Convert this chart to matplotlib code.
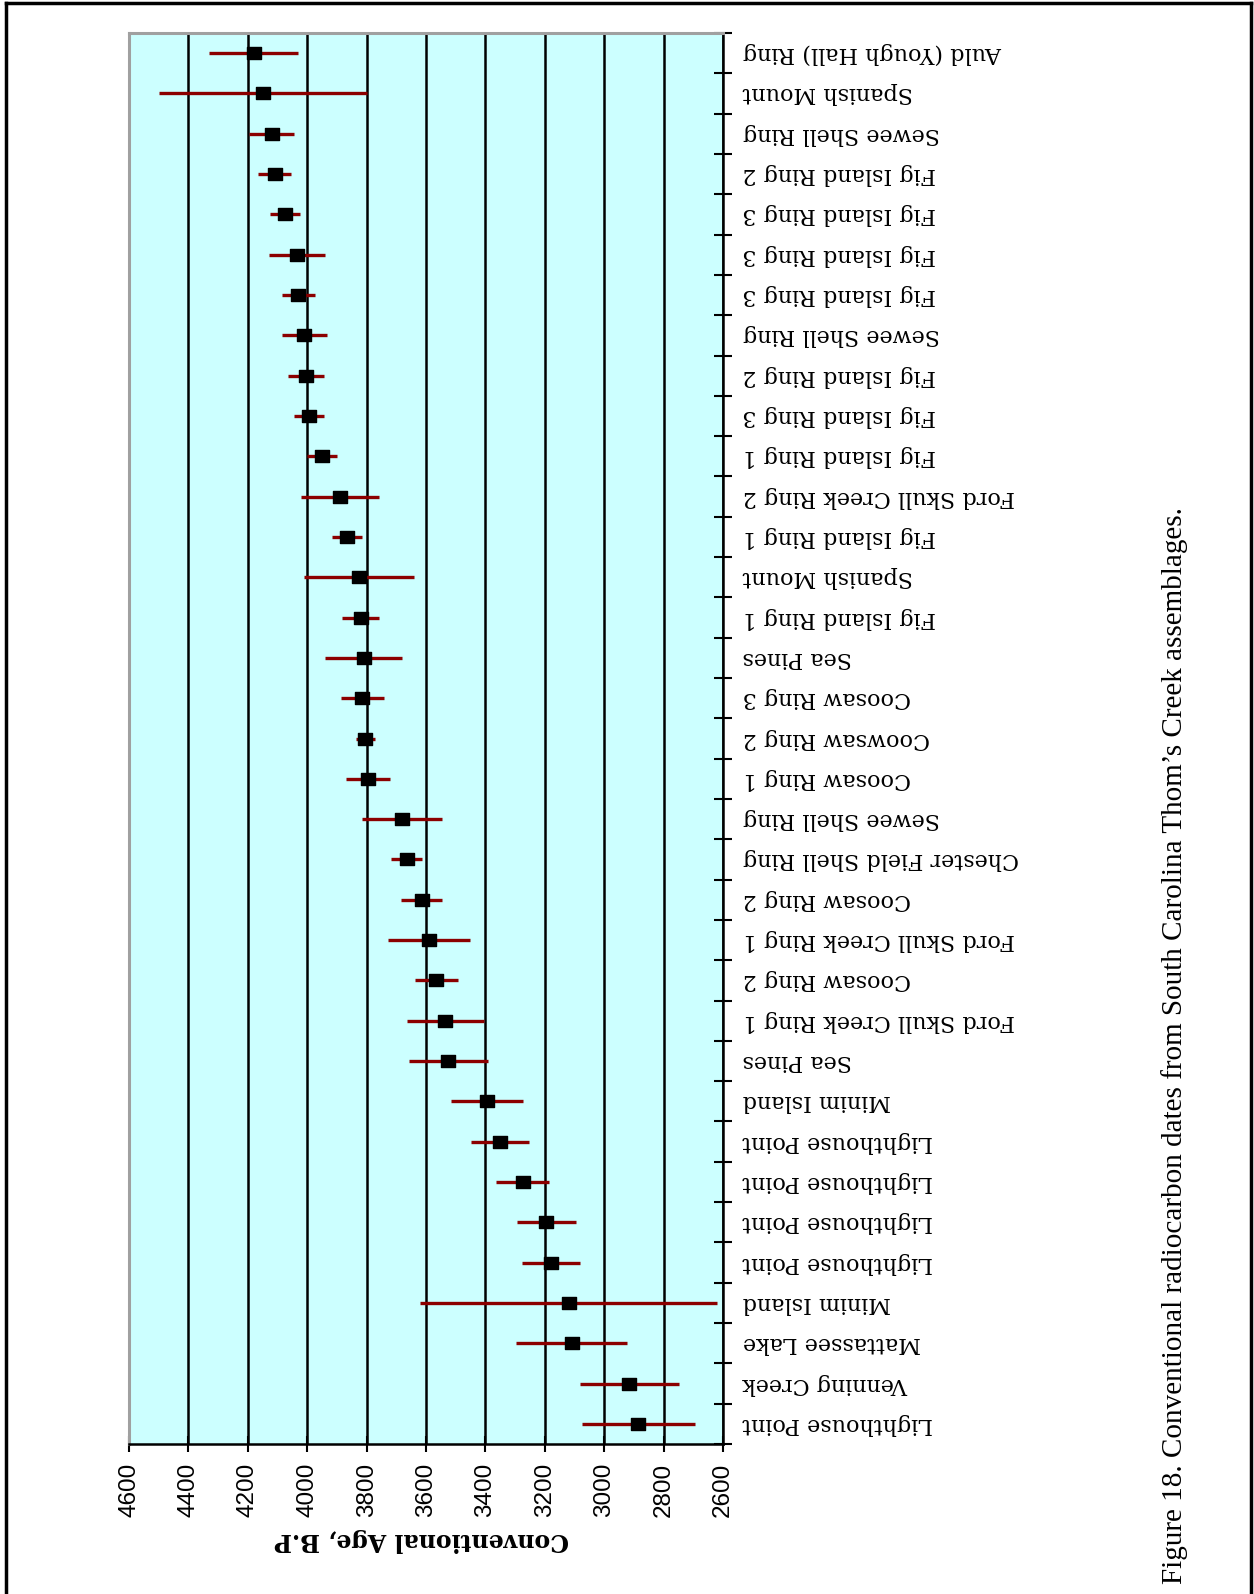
import numpy as np
import matplotlib
matplotlib.use("Agg")
import matplotlib.pyplot as plt
from matplotlib.path import Path
from matplotlib.lines import Line2D

# sites, top to bottom as printed
sites = [
    "Auld (Yough Hall) Ring", "Spanish Mount", "Sewee Shell Ring",
    "Fig Island Ring 2", "Fig Island Ring 3", "Fig Island Ring 3",
    "Fig Island Ring 3", "Sewee Shell Ring", "Fig Island Ring 2",
    "Fig Island Ring 3", "Fig Island Ring 1", "Ford Skull Creek Ring 2",
    "Fig Island Ring 1", "Spanish Mount", "Fig Island Ring 1",
    "Sea Pines", "Coosaw Ring 3", "Coowsaw Ring 2", "Coosaw Ring 1",
    "Sewee Shell Ring", "Chester Field Shell Ring", "Coosaw Ring 2",
    "Ford Skull Creek Ring 1", "Coosaw Ring 2", "Ford Skull Creek Ring 1",
    "Sea Pines", "Minim Island", "Lighthouse Point", "Lighthouse Point",
    "Lighthouse Point", "Lighthouse Point", "Minim Island",
    "Mattassee Lake", "Venning Creek", "Lighthouse Point",
]

# conventional age (yr B.P.) and one-sigma
age = [4180, 4150, 4120, 4110, 4075, 4035, 4030, 4010, 4005, 3995,
       3950, 3890, 3865, 3825, 3820, 3810, 3815, 3805, 3795, 3680,
       3665, 3615, 3590, 3565, 3535, 3525, 3395, 3350, 3275, 3195,
       3180, 3120, 3110, 2915, 2885]
sigma = [150, 350, 75, 55, 50, 95, 55, 75, 60, 50,
         50, 130, 50, 185, 63, 130, 73, 32, 73, 134,
         53, 70, 138, 73, 130, 134, 120, 97, 90, 100,
         97, 500, 187, 165, 190]

age_ticks = np.arange(2600, 4601, 200)

caption = ("Figure 18. Conventional radiocarbon dates from South Carolina "
           "Thom\u2019s Creek assemblages.")

fig = plt.figure(figsize=(12.54, 15.94), dpi=100)
ax = fig.add_axes([0.1029, 0.0941, 0.4737, 0.8852])
ax.set_facecolor("#ccffff")

y = np.arange(len(sites))

# slightly wide square marker
box = Path([(-0.62, -0.5), (0.62, -0.5), (0.62, 0.5), (-0.62, 0.5), (-0.62, -0.5)],
           [Path.MOVETO, Path.LINETO, Path.LINETO, Path.LINETO, Path.CLOSEPOLY])
ax.errorbar(age, y, xerr=sigma, fmt="none", ecolor="#8b0000",
            elinewidth=2.4, capsize=0, zorder=3)
ax.plot(age, y, linestyle="none", marker=box, markersize=10,
        color="black", zorder=4)

ax.set_xlim(4600, 2600)
ax.set_ylim(len(sites) - 0.5, -0.5)

ax.set_xticks(age_ticks)
ax.set_xticklabels([str(t) for t in age_ticks], rotation=90,
                   family="Liberation Sans", fontsize=17.5)
ax.grid(axis="x", color="black", linewidth=1.8)
ax.set_axisbelow(True)

# category boundaries as major ticks, names on minor ticks
ax.yaxis.tick_right()
ax.set_yticks(np.arange(len(sites) + 1) - 0.5)
ax.set_yticklabels([])
ax.set_yticks(y, minor=True)
ax.set_yticklabels(sites, minor=True, rotation=180, ha="left", va="center",
                   family="DejaVu Serif", fontsize=16)
ax.tick_params(axis="y", which="major", direction="inout", length=13,
               width=1.5, right=True, left=False)
ax.tick_params(axis="y", which="minor", length=0, pad=14, right=True, left=False)
ax.tick_params(axis="x", which="major", direction="inout", length=11,
               width=1.5, pad=8)

for s in ["left", "top"]:
    ax.spines[s].set_color("#a0a0a0")
    ax.spines[s].set_linewidth(2.2)
for s in ["right", "bottom"]:
    ax.spines[s].set_color("black")
    ax.spines[s].set_linewidth(1.8)

fig.text(0.3365, 0.0339, "Conventional Age, B.P", rotation=180,
         ha="center", va="center", family="DejaVu Serif",
         fontweight="bold", fontsize=17)

fig.text(0.937, 0.0063, caption, rotation=90, ha="center", va="bottom",
         family="Liberation Serif", fontsize=21)

# page frame (left, top, right)
for xs, ys in [([0.0045, 0.0045], [0, 0.998]),
               ([0.0045, 0.9975], [0.998, 0.998]),
               ([0.9975, 0.9975], [0, 0.998])]:
    fig.add_artist(Line2D(xs, ys, color="black", linewidth=2.5,
                          transform=fig.transFigure))

fig.savefig("out.png", dpi=100)
